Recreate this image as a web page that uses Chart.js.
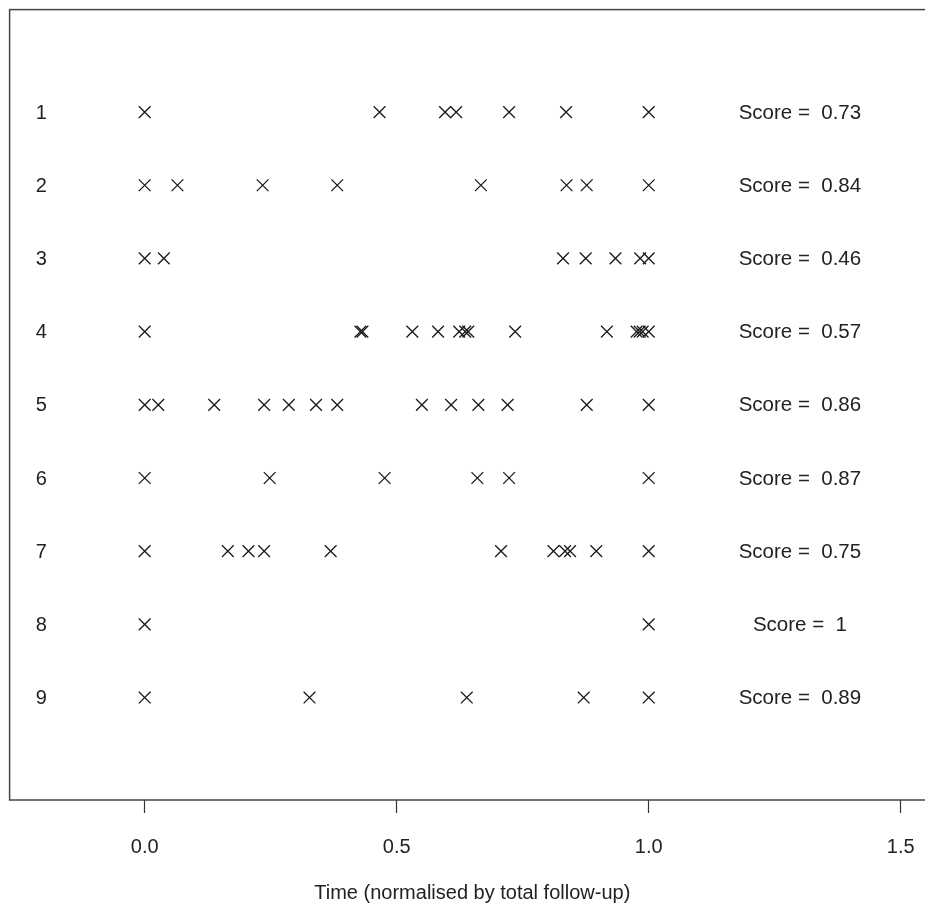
<!DOCTYPE html>
<html>
<head>
<meta charset="utf-8">
<script src="https://cdn.jsdelivr.net/npm/chart.js@4.4.1/dist/chart.umd.min.js"></script>
<style>
  html, body { margin: 0; padding: 0; background: #fff; overflow: hidden; }
  #wrap { width: 945px; height: 905px; }
</style>
</head>
<body>
<div id="wrap"><canvas id="chart" width="945" height="905"></canvas></div>
<script>
// patient rows and their score
const rowIds = [1, 2, 3, 4, 5, 6, 7, 8, 9];
const scores = ['0.73', '0.84', '0.46', '0.57', '0.86', '0.87', '0.75', '1', '0.89'];

// event times (normalised by total follow-up), one list per row
const row1 = [0, 0.466, 0.596, 0.618, 0.723, 0.836, 1.0];
const row2 = [0, 0.065, 0.234, 0.382, 0.667, 0.837, 0.877, 1.0];
const row3 = [0, 0.038, 0.830, 0.875, 0.934, 0.983, 1.0];
const row4 = [0, 0.428, 0.432, 0.531, 0.582, 0.624, 0.636, 0.642, 0.735, 0.917, 0.976, 0.982, 0.988, 1.0];
const row5 = [0, 0.027, 0.138, 0.237, 0.286, 0.340, 0.382, 0.550, 0.608, 0.662, 0.720, 0.877, 1.0];
const row6 = [0, 0.248, 0.476, 0.660, 0.723, 1.0];
const row7 = [0, 0.165, 0.206, 0.237, 0.369, 0.707, 0.811, 0.834, 0.844, 0.896, 1.0];
const row8 = [0, 1.0];
const row9 = [0, 0.327, 0.639, 0.871, 1.0];
const eventRows = [row1, row2, row3, row4, row5, row6, row7, row8, row9];

const xTicks = [0, 0.5, 1.0, 1.5];
const xTickLabels = ['0.0', '0.5', '1.0', '1.5'];

const points = [];
eventRows.forEach((r, i) => {
    r.forEach(t => points.push({ x: t, y: rowIds[i] }));
});

const FONT = '"Liberation Sans", Arial, sans-serif';
const INK = '#222';

// row numbers on the left, score text on the right, and the frame
const labelsPlugin = {
    id: 'rowText',
    afterDatasetsDraw(chart) {
        const { ctx, chartArea, scales } = chart;
        const xs = scales.x, ys = scales.y;
        ctx.save();
        ctx.fillStyle = INK;
        ctx.textBaseline = 'middle';
        ctx.textAlign = 'center';
        rowIds.forEach((id, i) => {
            const y = ys.getPixelForValue(id);
            ctx.font = '20px ' + FONT;
            ctx.fillText(String(id), xs.getPixelForValue(-0.205), y + 1);
            ctx.font = '20.5px ' + FONT;
            ctx.fillText('Score =  ' + scores[i], xs.getPixelForValue(1.3), y + 1);
        });
        ctx.strokeStyle = '#444';
        ctx.lineWidth = 1.5;
        ctx.strokeRect(chartArea.left, chartArea.top, chartArea.right - chartArea.left, chartArea.bottom - chartArea.top);
        ctx.restore();
    }
};

new Chart(document.getElementById('chart'), {
    type: 'scatter',
    data: {
        datasets: [{
            data: points,
            pointStyle: 'crossRot',
            radius: 8.3,
            hoverRadius: 8.3,
            borderColor: '#1a1a1a',
            borderWidth: 1.3,
            backgroundColor: '#1a1a1a'
        }]
    },
    options: {
        responsive: false,
        animation: false,
        devicePixelRatio: 1,
        layout: { padding: { left: 7, top: 6, right: 10, bottom: 0 } },
        plugins: { legend: { display: false }, tooltip: { enabled: false } },
        scales: {
            x: {
                type: 'linear',
                min: -0.268,
                max: 1.568,
                afterBuildTicks: (axis) => { axis.ticks = xTicks.map(v => ({ value: v })); },
                grid: { display: true, drawOnChartArea: false, drawTicks: true, tickLength: 13, tickColor: '#333', tickWidth: 1.2 },
                border: { display: false },
                ticks: {
                    color: INK,
                    font: { family: FONT, size: 20 },
                    padding: 22,
                    maxRotation: 0,
                    callback: (v) => {
                        const k = xTicks.indexOf(v);
                        return k >= 0 ? xTickLabels[k] : '';
                    }
                },
                title: {
                    display: true,
                    text: 'Time (normalised by total follow-up)',
                    color: INK,
                    font: { family: FONT, size: 20 },
                    padding: { top: 0, bottom: 0 }
                }
            },
            y: {
                type: 'linear',
                display: false,
                reverse: true,
                min: -0.4,
                max: 10.4
            }
        }
    },
    plugins: [labelsPlugin]
});
</script>
</body>
</html>
